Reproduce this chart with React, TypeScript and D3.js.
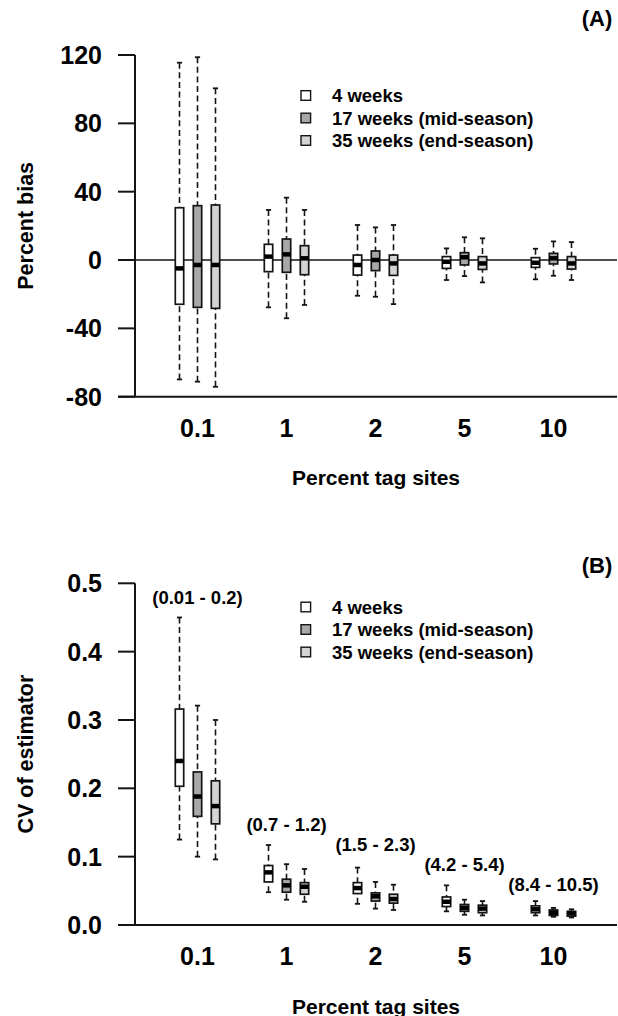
import React from "react";
import * as d3 from "d3";

// ---------- data ----------
const categories = ["0.1", "1", "2", "5", "10"];
const seriesNames = ["4 weeks", "17 weeks (mid-season)", "35 weeks (end-season)"];
const seriesFills = ["#ffffff", "#a8a8a8", "#d4d4d4"];

// [lower whisker, Q1, median, Q3, upper whisker] for each category
const biasWeek4 = [
  [-69.9, -25.9, -4.9, 30.6, 115.5],
  [-27.7, -6.8, 2.0, 9.2, 29.3],
  [-20.9, -8.8, -2.9, 2.9, 20.5],
  [-11.7, -4.9, -1.0, 2.0, 6.8],
  [-11.3, -4.3, -1.6, 1.4, 6.6],
];
const biasWeek17 = [
  [-71.2, -27.7, -2.9, 31.8, 118.7],
  [-34.1, -7.2, 3.3, 12.3, 36.5],
  [-21.5, -6.2, 0.0, 5.3, 19.1],
  [-9.4, -2.9, 1.6, 4.3, 13.3],
  [-9.2, -2.3, 1.0, 3.9, 10.9],
];
const biasWeek35 = [
  [-74.2, -28.3, -2.9, 32.2, 100.5],
  [-26.3, -8.6, 1.0, 8.4, 29.3],
  [-25.8, -9.0, -2.0, 2.9, 20.5],
  [-13.1, -5.5, -2.0, 2.0, 12.7],
  [-11.7, -5.3, -2.0, 2.0, 10.5],
];

const cvWeek4 = [
  [0.125, 0.203, 0.24, 0.316, 0.45],
  [0.048, 0.063, 0.077, 0.087, 0.117],
  [0.031, 0.046, 0.054, 0.062, 0.084],
  [0.02, 0.027, 0.034, 0.041, 0.058],
  [0.014, 0.018, 0.023, 0.028, 0.035],
];
const cvWeek17 = [
  [0.1, 0.159, 0.188, 0.224, 0.321],
  [0.037, 0.048, 0.058, 0.067, 0.089],
  [0.024, 0.035, 0.042, 0.047, 0.063],
  [0.015, 0.02, 0.025, 0.03, 0.037],
  [0.012, 0.014, 0.018, 0.022, 0.025],
];
const cvWeek35 = [
  [0.096, 0.148, 0.174, 0.211, 0.3],
  [0.034, 0.045, 0.056, 0.062, 0.082],
  [0.022, 0.032, 0.038, 0.045, 0.059],
  [0.014, 0.018, 0.024, 0.029, 0.035],
  [0.011, 0.013, 0.017, 0.02, 0.023],
];

const biasTicks = [-80, -40, 0, 40, 80, 120];
const cvTicks = [0.0, 0.1, 0.2, 0.3, 0.4, 0.5];
const cvTickLabels = ["0.0", "0.1", "0.2", "0.3", "0.4", "0.5"];

const rangeLabels = ["(0.01 - 0.2)", "(0.7 - 1.2)", "(1.5 - 2.3)", "(4.2 - 5.4)", "(8.4 - 10.5)"];
const rangeLabelY = [0.479, 0.147, 0.118, 0.089, 0.059];

// ---------- layout ----------
const W = 618;
const H = 1016;
const FONT = "'Liberation Sans', Arial, Helvetica, sans-serif";
const axisX = 135;
const tickStart = 118;
const rightEdge = 617;
const boxHalf = 4.2;
const capHalf = 2.6;
const INK = "#141414";

const xGroup = d3.scalePoint<string>().domain(categories).range([197.5, 553.5]);
const xOffset = d3.scalePoint<string>().domain(seriesNames).range([-18, 18]);

type PanelProps = {
  y: d3.ScaleLinear<number, number>;
  ticks: number[];
  tickLabels: string[];
  series: number[][][];
  yTitle: string;
  panelLabel: string;
  panelLabelY: number;
  legendY: number;
  zeroLine?: boolean;
  annotations?: { text: string; value: number }[];
};

function Box({ cx, s, fill, y }: { cx: number; s: number[]; fill: string; y: d3.ScaleLinear<number, number> }) {
  const [lo, q1, med, q3, hi] = s;
  return (
    <g>
      <line x1={cx} x2={cx} y1={y(hi)} y2={y(q3)} stroke={INK} strokeWidth={1.6} strokeDasharray="6 3.6" />
      <line x1={cx} x2={cx} y1={y(lo)} y2={y(q1)} stroke={INK} strokeWidth={1.6} strokeDasharray="6 3.6" />
      <line x1={cx - capHalf} x2={cx + capHalf} y1={y(hi)} y2={y(hi)} stroke={INK} strokeWidth={1.8} />
      <line x1={cx - capHalf} x2={cx + capHalf} y1={y(lo)} y2={y(lo)} stroke={INK} strokeWidth={1.8} />
      <rect x={cx - boxHalf} y={y(q3)} width={boxHalf * 2} height={y(q1) - y(q3)} fill={fill} stroke={INK} strokeWidth={1.7} />
      <line x1={cx - boxHalf} x2={cx + boxHalf} y1={y(med)} y2={y(med)} stroke="#000" strokeWidth={4.5} />
    </g>
  );
}

function Panel(p: PanelProps) {
  const { y } = p;
  const [d0, d1] = y.domain();
  const yTop = y(d1);
  const yBot = y(d0);
  const yMid = (yTop + yBot) / 2;
  return (
    <g fontFamily={FONT} fontWeight="bold" fill="#000">
      {/* panel label */}
      <text x={597} y={p.panelLabelY + 8} fontSize={22} textAnchor="middle">{p.panelLabel}</text>
      {/* zero line */}
      {p.zeroLine && (
        <line x1={tickStart} x2={rightEdge} y1={y(0)} y2={y(0)} stroke={INK} strokeWidth={1.7} />
      )}
      {/* y axis */}
      <line x1={axisX} x2={axisX} y1={yTop} y2={yBot} stroke={INK} strokeWidth={2} />
      {p.ticks.map((t, i) => (
        <g key={i}>
          <line x1={tickStart} x2={axisX} y1={y(t)} y2={y(t)} stroke={INK} strokeWidth={2} />
          <text x={102} y={y(t) + 9} fontSize={25} textAnchor="end">{p.tickLabels[i]}</text>
        </g>
      ))}
      {/* x axis line */}
      <line x1={tickStart} x2={rightEdge} y1={yBot} y2={yBot} stroke={INK} strokeWidth={2} />
      {categories.map((c) => (
        <text key={c} x={xGroup(c)} y={yBot + 31 + 9} fontSize={25} textAnchor="middle">{c}</text>
      ))}
      <text x={376} y={yBot + 81 + 7.5} fontSize={21} textAnchor="middle">Percent tag sites</text>
      <text transform={`translate(33,${yMid}) rotate(-90)`} fontSize={21.5} textAnchor="middle">{p.yTitle}</text>
      {/* boxes */}
      {p.series.map((ser, si) =>
        ser.map((s, ci) => (
          <Box key={`${si}-${ci}`} cx={(xGroup(categories[ci]) as number) + (xOffset(seriesNames[si]) as number)} s={s} fill={seriesFills[si]} y={y} />
        ))
      )}
      {/* annotations */}
      {p.annotations &&
        p.annotations.map((a, i) => (
          <text key={i} x={xGroup(categories[i])} y={y(a.value) + 6.5} fontSize={18.5} textAnchor="middle">{a.text}</text>
        ))}
      {/* legend */}
      {seriesNames.map((n, i) => {
        const ry = p.legendY + i * 22.5;
        return (
          <g key={n}>
            <rect x={301} y={ry - 4.8} width={9.6} height={9.6} fill={seriesFills[i]} stroke={INK} strokeWidth={1.4} />
            <text x={332} y={ry + 6.5} fontSize={18.5}>{n}</text>
          </g>
        );
      })}
    </g>
  );
}

export default function App() {
  const yBias = d3.scaleLinear().domain([-80, 120]).range([396.7, 55]);
  const yCV = d3.scaleLinear().domain([0, 0.5]).range([925, 583.3]);
  return (
    <svg width={W} height={H} viewBox={`0 0 ${W} ${H}`} style={{ position: "absolute", left: 0, top: 0, background: "#fff" }}>
      <rect width={W} height={H} fill="#fff" />
      <Panel
        y={yBias}
        ticks={biasTicks}
        tickLabels={biasTicks.map(String)}
        series={[biasWeek4, biasWeek17, biasWeek35]}
        yTitle="Percent bias"
        panelLabel="(A)"
        panelLabelY={18}
        legendY={95.5}
        zeroLine
      />
      <Panel
        y={yCV}
        ticks={cvTicks}
        tickLabels={cvTickLabels}
        series={[cvWeek4, cvWeek17, cvWeek35]}
        yTitle="CV of estimator"
        panelLabel="(B)"
        panelLabelY={565}
        legendY={607}
        annotations={rangeLabels.map((t, i) => ({ text: t, value: rangeLabelY[i] }))}
      />
    </svg>
  );
}
